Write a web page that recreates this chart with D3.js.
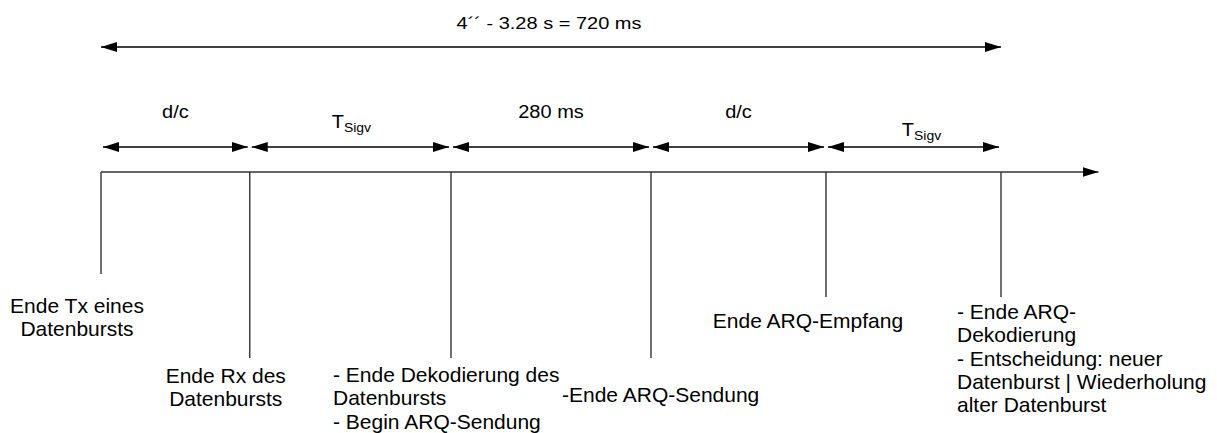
<!DOCTYPE html>
<html>
<head>
<meta charset="utf-8">
<script src="https://cdn.jsdelivr.net/npm/d3@7/dist/d3.min.js"></script>
<style>
  html, body { margin: 0; padding: 0; background: #fff; }
  svg { display: block; }
  text { font-family: "Liberation Sans", Arial, sans-serif; fill: #000; }
</style>
</head>
<body>
<svg id="chart" width="1217" height="433"></svg>
<script>
// ---- data ----
const totalLabel = "4\u00B4\u00B4 - 3.28 s = 720 ms";
const eventTimes = [0, 119, 280, 440, 580, 720];          // ms (approx. positions on the time axis)
const segmentLabels = ["d/c", "T", "280 ms", "d/c", "T"];
const segmentSubs   = ["", "Sigv", "", "", "Sigv"];
const eventLabels = [
  ["Ende Tx eines", "Datenbursts"],
  ["Ende Rx des", "Datenbursts"],
  ["- Ende Dekodierung des", "Datenbursts", "- Begin ARQ-Sendung"],
  ["-Ende ARQ-Sendung"],
  ["Ende ARQ-Empfang"],
  ["- Ende ARQ-", "Dekodierung", "- Entscheidung: neuer", "Datenburst | Wiederholung", "alter Datenburst"]
];
const axisEnd = 798;

// ---- layout ----
const svg = d3.select("#chart");
const x = d3.scaleLinear().domain([0, 720]).range([101, 1001]);
const yTotal = 47, ySeg = 147, yAxis = 172;
const dropEnd = [274, 358, 358, 358, 297, 297];
const labelPlace = [
  {anchor: "middle", dx: -24, y: 313},
  {anchor: "middle", dx: -24, y: 383},
  {anchor: "start",  dx: -118, y: 382},
  {anchor: "start",  dx: -89, y: 402},
  {anchor: "middle", dx: -18, y: 328},
  {anchor: "start",  dx: -44, y: 319}
];
const segPlace = [
  {dx: 0, y: 118}, {dx: 1, y: 128}, {dx: 0, y: 118}, {dx: 0, y: 118}, {dx: 8, y: 136}
];
const lineH = 23.3;

const defs = svg.append("defs");
function marker(id, orient) {
  defs.append("marker")
    .attr("id", id).attr("viewBox", "0 0 16 10")
    .attr("refX", 16).attr("refY", 5)
    .attr("markerWidth", 16).attr("markerHeight", 10)
    .attr("markerUnits", "userSpaceOnUse")
    .attr("orient", orient)
    .append("path").attr("d", "M0,0 L16,5 L0,10 Z").attr("fill", "#000");
}
marker("ah", "auto");
marker("ahs", "auto-start-reverse");

// total span arrow
svg.append("line")
  .attr("x1", x(0)).attr("x2", x(720))
  .attr("y1", yTotal).attr("y2", yTotal)
  .attr("stroke", "#000").attr("stroke-width", 1.5)
  .attr("marker-start", "url(#ahs)").attr("marker-end", "url(#ah)");
svg.append("text")
  .attr("transform", `translate(${x(360) - 2},29) scale(1,0.87)`)
  .attr("text-anchor", "middle").attr("font-size", 20)
  .text(totalLabel);

// segment arrows
const segs = d3.pairs(eventTimes);
svg.selectAll("line.seg").data(segs).join("line")
  .attr("class", "seg")
  .attr("x1", d => x(d[0]) + 2).attr("x2", d => x(d[1]) - 2)
  .attr("y1", ySeg).attr("y2", ySeg)
  .attr("stroke", "#000").attr("stroke-width", 1.5)
  .attr("marker-start", "url(#ahs)").attr("marker-end", "url(#ah)");

const segText = svg.selectAll("text.seglab").data(segs).join("text")
  .attr("class", "seglab")
  .attr("text-anchor", "middle").attr("font-size", 20)
  .attr("transform", (d, i) => `translate(${(x(d[0]) + x(d[1])) / 2 + segPlace[i].dx},${segPlace[i].y}) scale(1,0.88)`);
segText.append("tspan").text((d, i) => segmentLabels[i]);
segText.append("tspan")
  .attr("font-size", 14).attr("dy", 4)
  .text((d, i) => segmentSubs[i]);

// time axis
svg.append("line")
  .attr("x1", x(0)).attr("x2", x(axisEnd))
  .attr("y1", yAxis).attr("y2", yAxis)
  .attr("stroke", "#333").attr("stroke-width", 1.5)
  .attr("marker-end", "url(#ah)");

// event drop lines
svg.selectAll("line.drop").data(eventTimes).join("line")
  .attr("class", "drop")
  .attr("x1", d => x(d)).attr("x2", d => x(d))
  .attr("y1", yAxis).attr("y2", (d, i) => dropEnd[i])
  .attr("stroke", "#333").attr("stroke-width", 1.4);

// event labels
const evText = svg.selectAll("text.ev").data(eventTimes).join("text")
  .attr("class", "ev")
  .attr("font-size", 21)
  .attr("text-anchor", (d, i) => labelPlace[i].anchor);
evText.each(function(d, i) {
  const t = d3.select(this);
  eventLabels[i].forEach((ln, j) => {
    t.append("tspan")
      .attr("x", x(d) + labelPlace[i].dx)
      .attr("y", labelPlace[i].y + j * lineH)
      .text(ln);
  });
});
</script>
</body>
</html>
